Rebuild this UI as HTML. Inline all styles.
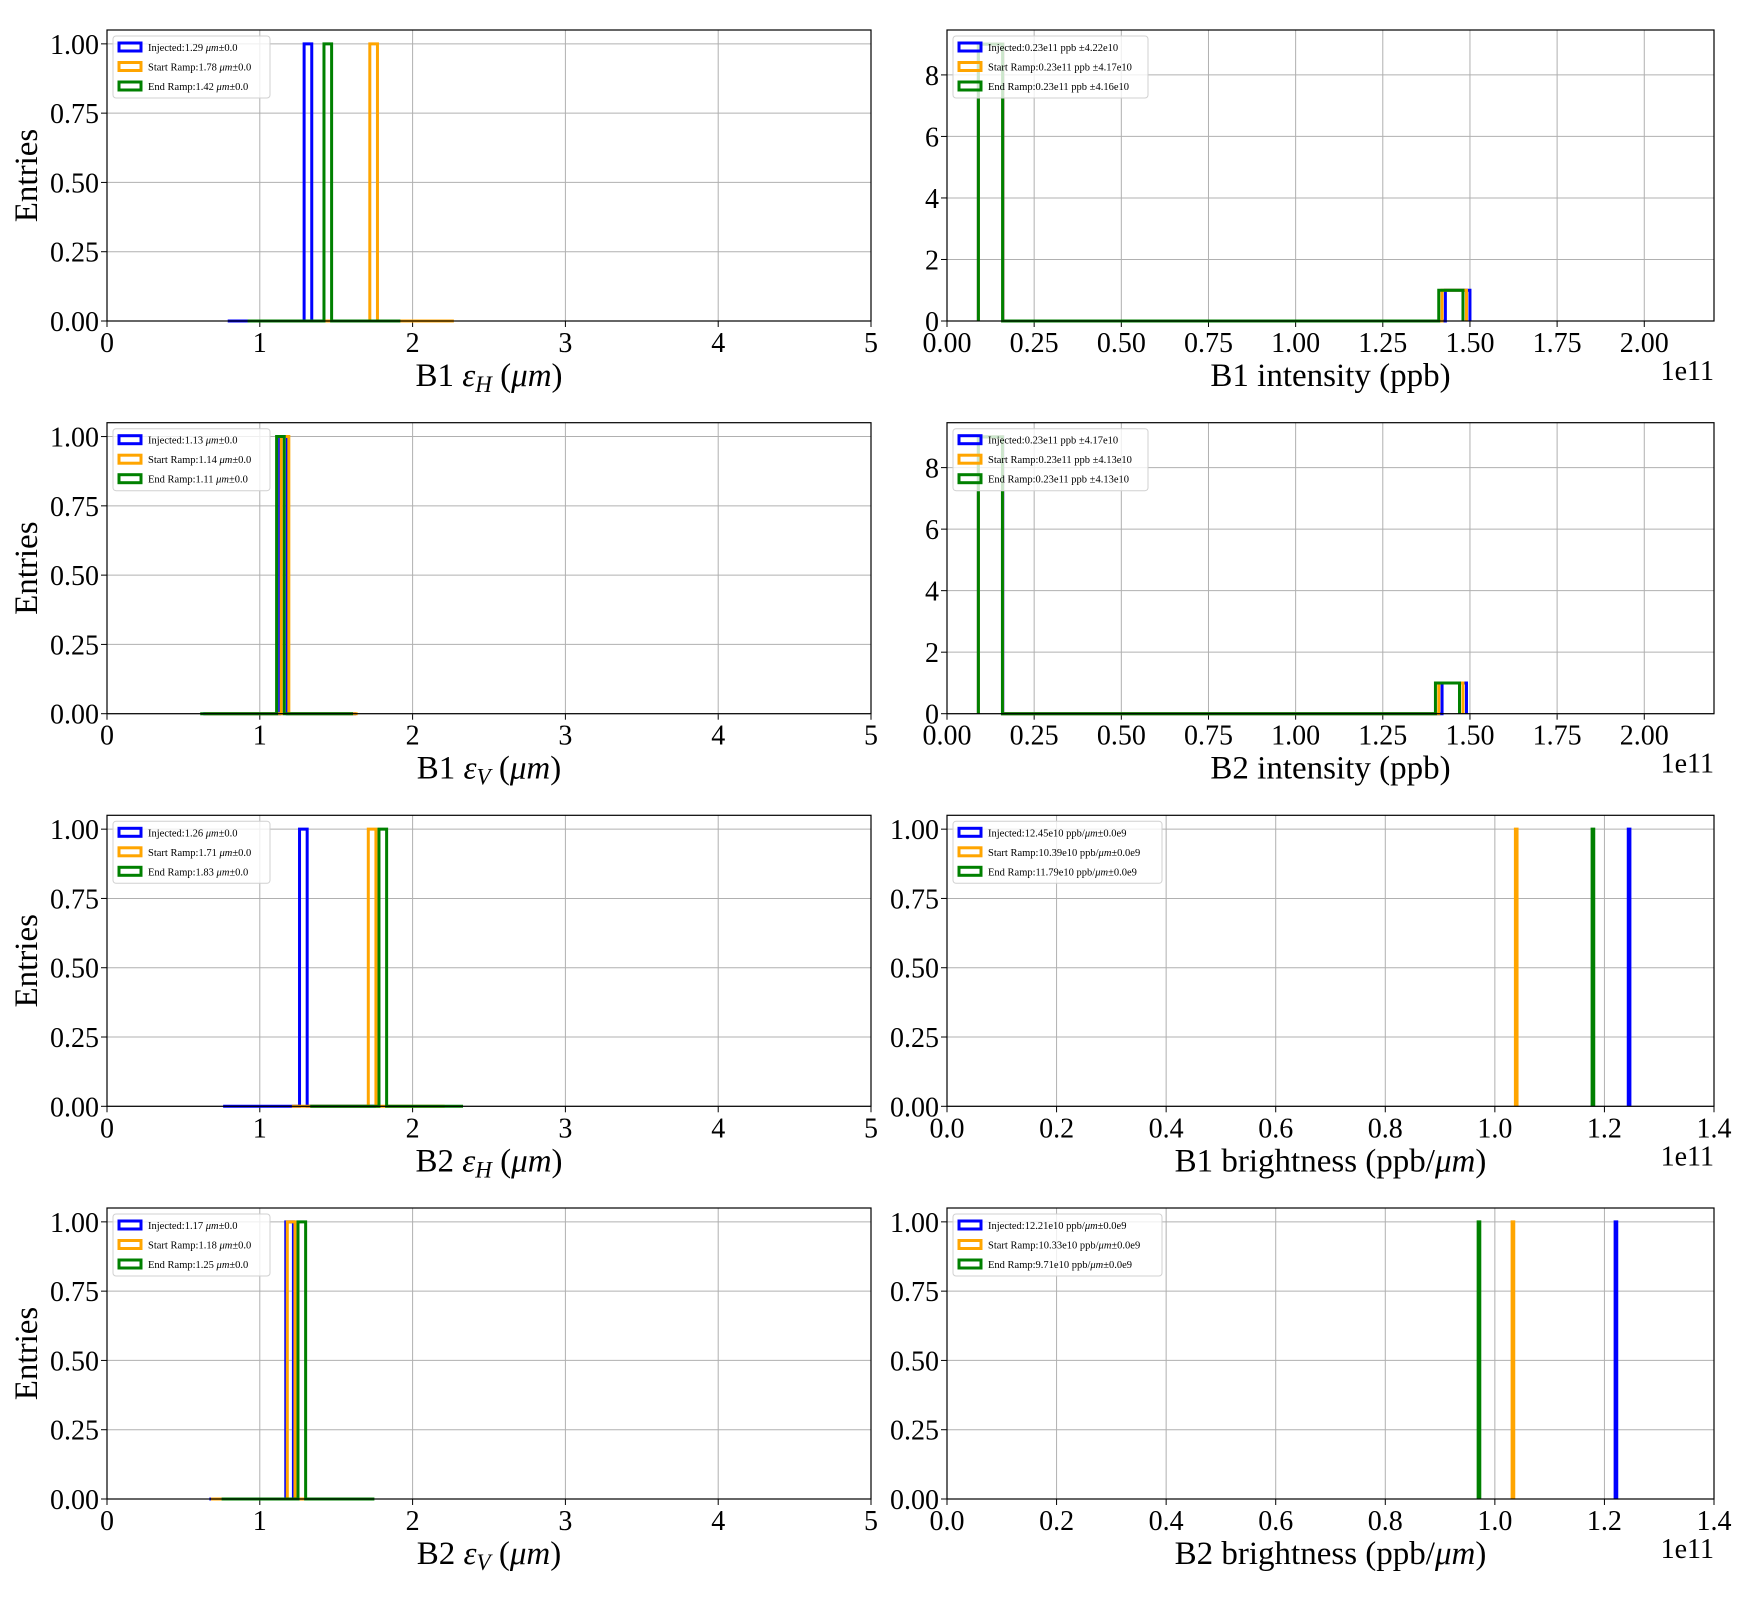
<!DOCTYPE html>
<html><head><meta charset="utf-8"><style>
html,body{margin:0;padding:0;background:#fff}
svg text{font-family:"Liberation Serif","DejaVu Serif",serif}
</style></head><body>
<svg id="fig" width="1760" height="1600" viewBox="0 0 1760 1600" xmlns="http://www.w3.org/2000/svg"></svg>
<script>
// ---- data ----
const seriesNames = ["Injected", "Start Ramp", "End Ramp"];
const seriesColors = ["#0000ff", "#ffa500", "#008000"];
// emittance histograms: start of range (um), 20 bins of 0.05, index of the filled bin
const b1hLo = [0.79, 1.27, 0.92];   const b1hIdx = [10, 9, 10];
const b1vLo = [0.63, 0.64, 0.61];   const b1vIdx = [10, 10, 10];
const b2hLo = [0.76, 1.21, 1.33];   const b2hIdx = [10, 10, 9];
const b2vLo = [0.67, 0.68, 0.75];   const b2vIdx = [10, 10, 10];
// intensity histograms (1e11): range lo/hi, 20 bins, counts in first and last bin
const i1Lo = [0.09, 0.09, 0.09];    const i1Hi = [1.50, 1.49, 1.48];
const i2Lo = [0.09, 0.09, 0.09];    const i2Hi = [1.49, 1.48, 1.47];
const intFirst = [9, 9, 9];         const intLast = [1, 1, 1];
// brightness values (1e11)
const br1 = [1.245, 1.039, 1.179];
const br2 = [1.221, 1.033, 0.971];
const emitTicks = ["0","1","2","3","4","5"];
const fracTicks = ["0.00","0.25","0.50","0.75","1.00"];
const intXTicks = ["0.00","0.25","0.50","0.75","1.00","1.25","1.50","1.75","2.00"];
const intYTicks = ["0","2","4","6","8"];
const brXTicks = ["0.0","0.2","0.4","0.6","0.8","1.0","1.2","1.4"];
const legB1H = ["1.29","1.78","1.42"], legB1V = ["1.13","1.14","1.11"];
const legB2H = ["1.26","1.71","1.83"], legB2V = ["1.17","1.18","1.25"];
const legI1 = ["4.22e10","4.17e10","4.16e10"], legI2 = ["4.17e10","4.13e10","4.13e10"];
const legBr1 = ["12.45e10","10.39e10","11.79e10"], legBr2 = ["12.21e10","10.33e10","9.71e10"];

const NS = "http://www.w3.org/2000/svg";
const svg = document.getElementById("fig");
function mk(tag, attrs, parent, text){
  const e = document.createElementNS(NS, tag);
  for (const k in attrs) e.setAttribute(k, attrs[k]);
  if (text !== undefined) e.textContent = text;
  (parent || svg).appendChild(e);
  return e;
}
const rowTop = [30, 422.7, 815.3, 1208], H = 291;
const colX = [[107, 871], [947, 1714]];

function panel(name, col, row, xmax, ymax, xticks, yticks, xlabelHTML, sci, showEntries){
  const g = mk("g", {});
  
  
  const x0 = colX[col][0], x1 = colX[col][1], y0 = rowTop[row], y1 = y0 + H;
  const sx = v => x0 + (v / xmax) * (x1 - x0);
  const sy = v => y1 - (v / ymax) * H;
  xticks.forEach(t => {
    const X = sx(parseFloat(t));
    mk("line", {x1:X, x2:X, y1:y0, y2:y1, stroke:"#b0b0b0", "stroke-width":1}, g);
    mk("line", {x1:X, x2:X, y1:y1, y2:y1+6, stroke:"#000", "stroke-width":1}, g);
    mk("text", {x:X, y:y1+31, "font-size":28, "text-anchor":"middle"}, g, t);
  });
  yticks.forEach(t => {
    const Y = sy(parseFloat(t));
    mk("line", {x1:x0, x2:x1, y1:Y, y2:Y, stroke:"#b0b0b0", "stroke-width":1}, g);
    mk("line", {x1:x0-6, x2:x0, y1:Y, y2:Y, stroke:"#000", "stroke-width":1}, g);
    mk("text", {x:x0-8, y:Y+10, "font-size":28, "text-anchor":"end"}, g, t);
  });
  const xl = mk("text", {x:(x0+x1)/2, y:y1+65, "font-size":33, "text-anchor":"middle"}, g);
  xl.innerHTML = xlabelHTML;
  
  
  if (sci){ const s = mk("text", {x:x1, y:y1+59, "font-size":28, "text-anchor":"end"}, g, "1e11");
      }
  if (showEntries){
    const e = mk("text", {x:0, y:0, "font-size":33, "text-anchor":"middle", transform:`translate(37,${(y0+y1)/2}) rotate(-90)`}, g, "Entries");
     
  }
  const marks = mk("g", {}, g);
  
  
  return {g, marks, x0, x1, y0, y1, sx, sy};
}
function step(p, edges, counts, color, name){
  let d = `M${p.sx(edges[0])},${p.sy(0)}`;
  counts.forEach((c, i) => { d += ` L${p.sx(edges[i])},${p.sy(c)} L${p.sx(edges[i+1])},${p.sy(c)}`; });
  d += ` L${p.sx(edges[edges.length-1])},${p.sy(0)}`;
  const e = mk("path", {d, fill:"none", stroke:color, "stroke-width":3, "stroke-linejoin":"miter"}, p.marks);
  
  
}
function frame(p){
  mk("rect", {x:p.x0, y:p.y0, width:p.x1-p.x0, height:p.y1-p.y0, fill:"none", stroke:"#000", "stroke-width":1.2}, p.g);
}
function legend(p, labels, w){
  const lg = mk("g", {}, p.g);
  
  
  mk("rect", {x:p.x0+6, y:p.y0+6, width:w, height:62, rx:3, fill:"#fff", "fill-opacity":0.8, stroke:"#d0d0d0"}, lg);
  labels.forEach((lab, i) => {
    const y = p.y0 + 17 + i*19.5;
    mk("rect", {x:p.x0+12, y:y-4, width:22, height:8, fill:"none", stroke:seriesColors[i], "stroke-width":3}, lg);
    const t = mk("text", {x:p.x0+41, y:y+4, "font-size":10.5}, lg);
    t.innerHTML = lab;
    
    
  });
}
const um = '<tspan font-style="italic">μm</tspan>';
function emitPanel(name, col, row, lo, idx, leg, lbl){
  const p = panel(name, col, row, 5, 1.05, emitTicks, fracTicks, lbl, false, true);
  [0,1,2].forEach(s => {
    const edges = [], counts = [];
    for (let i = 0; i <= 20; i++) edges.push(lo[s] + i*0.05);
    for (let i = 0; i < 20; i++) counts.push(i === idx[s] ? 1 : 0);
    step(p, edges, counts, seriesColors[s], "hist-" + seriesNames[s].toLowerCase().replace(" ", "-"));
  });
  frame(p);
  legend(p, leg.map((v, i) => `${seriesNames[i]}:${v} ${um}±0.0`), 157);
}
function intPanel(name, col, row, lo, hi, leg, lbl){
  const p = panel(name, col, row, 2.2, 9.46, intXTicks, intYTicks, lbl, true, false);
  [0,1,2].forEach(s => {
    const edges = [], counts = [], w = (hi[s]-lo[s])/20;
    for (let i = 0; i <= 20; i++) edges.push(lo[s] + i*w);
    for (let i = 0; i < 20; i++) counts.push(i === 0 ? intFirst[s] : (i === 19 ? intLast[s] : 0));
    step(p, edges, counts, seriesColors[s], "hist-" + seriesNames[s].toLowerCase().replace(" ", "-"));
  });
  frame(p);
  legend(p, leg.map((v, i) => `${seriesNames[i]}:0.23e11 ppb ±${v}`), 195);
}
function brPanel(name, col, row, vals, leg, lbl){
  const p = panel(name, col, row, 1.4, 1.05, brXTicks, fracTicks, lbl, true, false);
  vals.forEach((v, s) => {
    step(p, [v-0.0015, v+0.0015], [1], seriesColors[s], "hist-" + seriesNames[s].toLowerCase().replace(" ", "-"));
  });
  frame(p);
  legend(p, leg.map((v, i) => `${seriesNames[i]}:${v} ppb/${um}±0.0e9`), 209);
}
const eps = (b, s) => `${b} <tspan font-style="italic">ε</tspan><tspan font-style="italic" font-size="23" dy="6">${s}</tspan><tspan dy="-6"> (</tspan>${um})`;
emitPanel("b1-emittance-h-chart", 0, 0, b1hLo, b1hIdx, legB1H, eps("B1","H"));
intPanel("b1-intensity-chart", 1, 0, i1Lo, i1Hi, legI1, "B1 intensity (ppb)");
emitPanel("b1-emittance-v-chart", 0, 1, b1vLo, b1vIdx, legB1V, eps("B1","V"));
intPanel("b2-intensity-chart", 1, 1, i2Lo, i2Hi, legI2, "B2 intensity (ppb)");
emitPanel("b2-emittance-h-chart", 0, 2, b2hLo, b2hIdx, legB2H, eps("B2","H"));
brPanel("b1-brightness-chart", 1, 2, br1, legBr1, `B1 brightness (ppb/${um})`);
emitPanel("b2-emittance-v-chart", 0, 3, b2vLo, b2vIdx, legB2V, eps("B2","V"));
brPanel("b2-brightness-chart", 1, 3, br2, legBr2, `B2 brightness (ppb/${um})`);
</script>
</body></html>
